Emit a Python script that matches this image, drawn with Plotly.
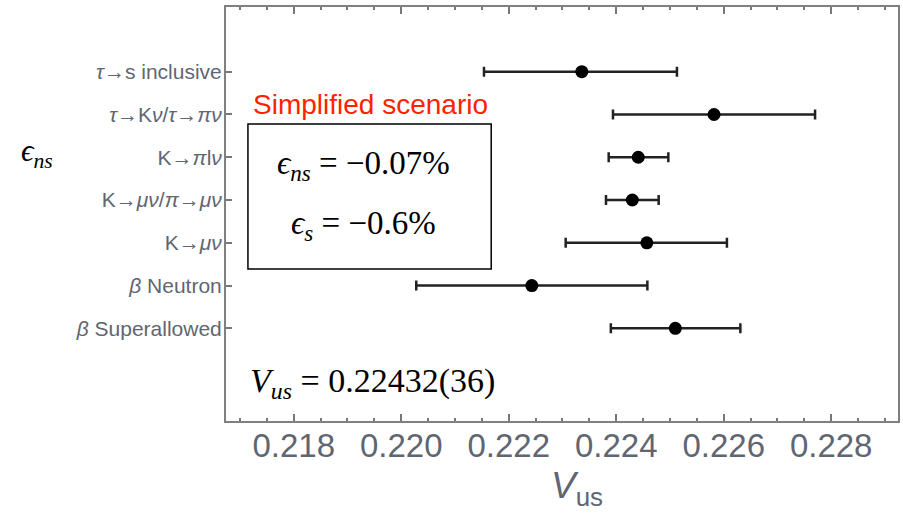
import plotly.graph_objects as go

labels = [
    "<i>τ</i>→s inclusive",
    "<i>τ</i>→K<i>ν</i>/<i>τ</i>→<i>πν</i>",
    "K→<i>π</i>l<i>ν</i>",
    "K→<i>μν</i>/<i>π</i>→<i>μν</i>",
    "K→<i>μν</i>",
    "<i>β</i> Neutron",
    "<i>β</i> Superallowed",
]
rows = [1, 2, 3, 4, 5, 6, 7]
vus = [0.22336, 0.22582, 0.22441, 0.22430, 0.22457, 0.22243, 0.22510]
err_minus = [0.00182, 0.00188, 0.00055, 0.00049, 0.00151, 0.00215, 0.00120]
err_plus = [0.00177, 0.00188, 0.00056, 0.00049, 0.00149, 0.00215, 0.00121]
xticks = [0.218, 0.220, 0.222, 0.224, 0.226, 0.228]

W, H = 903, 516
L, R, T, B = 226, 900, 7, 421


def px(x):
    return (x - L) / (R - L)


def py(y):
    return (B - y) / (B - T)


fig = go.Figure()
fig.add_trace(go.Scatter(
    x=vus, y=rows, mode="markers",
    marker=dict(color="black", size=13),
    error_x=dict(type="data", symmetric=False, array=err_plus, arrayminus=err_minus,
                 color="#222222", thickness=2.5, width=5),
    showlegend=False,
))

tickfont_col = "#5f6672"
fig.update_layout(
    width=W, height=H,
    margin=dict(l=L, r=W - R, t=T, b=H - B),
    paper_bgcolor="white", plot_bgcolor="white",
    xaxis=dict(
        range=[0.21674, 0.229243], tickvals=xticks,
        ticktext=[f"{v:.3f}" for v in xticks],
        ticks="inside", ticklen=7, tickwidth=1.5, tickcolor="#777777",
        minor=dict(dtick=0.0005, ticks="inside", ticklen=3, tickwidth=1.5, tickcolor="#777777"),
        showline=True, linecolor="#808080", linewidth=2, mirror="ticks",
        showgrid=False, zeroline=False,
        tickfont=dict(family="Liberation Sans, Arial", size=33, color=tickfont_col),
        ticklabelstandoff=-6,
    ),
    yaxis=dict(
        range=[9.167, -0.513], tickvals=rows, ticktext=labels,
        ticks="inside", ticklen=6, tickwidth=1.5, tickcolor="#777777",
        showline=True, linecolor="#808080", linewidth=2, mirror=True,
        showgrid=False, zeroline=False,
        tickfont=dict(family="Liberation Sans, Arial", size=21, color=tickfont_col),
        ticklabelstandoff=-2,
    ),
)

serif = "Liberation Serif, Times New Roman, serif"
ann = [
    dict(text="<i>ϵ</i><sub><i>ns</i></sub>", x=px(36), y=py(153), font=dict(family=serif, size=31, color="black")),
    dict(text="Simplified scenario", x=px(371), y=py(104), font=dict(family="Liberation Sans, Arial", size=28, color="#ff2200")),
    dict(text="<i>ϵ</i><sub><i>ns</i></sub> = −0.07%", x=px(364), y=py(165), font=dict(family=serif, size=33, color="black")),
    dict(text="<i>ϵ</i><sub><i>s</i></sub> = −0.6%", x=px(364), y=py(225), font=dict(family=serif, size=33, color="black")),
    dict(text="<i>V</i><sub><i>us</i></sub> = 0.22432(36)", x=px(373), y=py(383), font=dict(family=serif, size=34, color="black")),
    dict(text="<i>V</i><sub>us</sub>", x=px(578), y=py(488), font=dict(family="Liberation Sans, Arial", size=37, color=tickfont_col)),
]
for a in ann:
    fig.add_annotation(xref="paper", yref="paper", showarrow=False,
                       xanchor="center", yanchor="middle", **a)

fig.add_shape(type="rect", xref="paper", yref="paper",
              x0=px(248), x1=px(492), y0=py(269), y1=py(124),
              line=dict(color="black", width=1.5), fillcolor="rgba(0,0,0,0)")

fig.write_html("out.html")
